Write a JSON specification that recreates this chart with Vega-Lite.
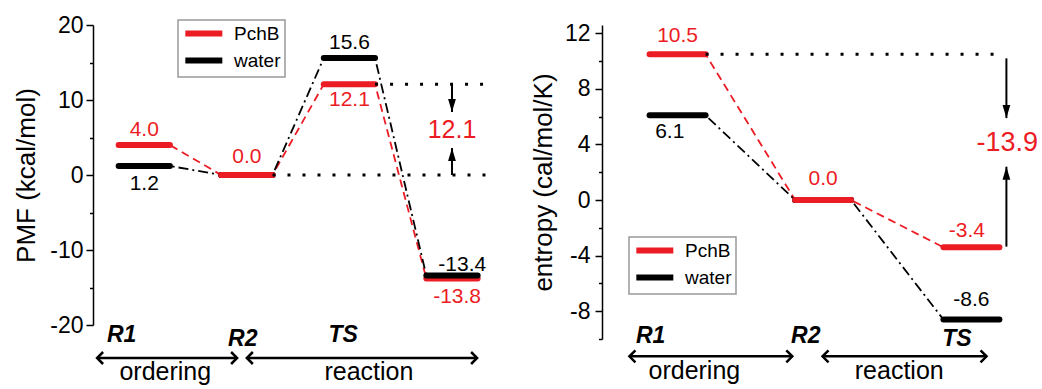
{
  "$schema": "https://vega.github.io/schema/vega-lite/v6.json",
  "background": "white",
  "padding": {"left": 13, "top": 14, "right": 0, "bottom": 0},
  "bounds": "flush",
  "spacing": 109,
  "config": {
    "view": {"stroke": null},
    "font": "Liberation Sans",
    "axis": {"grid": false, "domainColor": "#000", "domainWidth": 1.5, "tickColor": "#000", "tickWidth": 1.5, "labelColor": "#000", "labelFont": "Liberation Sans", "titleFont": "Liberation Sans", "titleFontWeight": "normal", "titleColor": "#000"},
    "legend": {"orient": "none", "title": null, "strokeColor": "#999", "strokeWidth": 1.5, "padding": 4, "symbolType": "M-1,0H5", "symbolSize": 152, "symbolStrokeWidth": 6, "labelFontSize": 19, "labelColor": "#000", "labelFont": "Liberation Sans", "symbolOffset": 0, "labelOffset": 33, "rowPadding": 2, "fillColor": "white"}
  },
  "resolve": {"scale": {"x": "independent", "y": "independent", "color": "independent", "shape": "independent"}, "legend": {"color": "independent"}},
  "datasets": {
    "pmf": [
      {"series": "PchB", "state": "R1", "x": 1, "y": 4.0},
      {"series": "PchB", "state": "R1", "x": 2, "y": 4.0},
      {"series": "PchB", "state": "R2", "x": 3, "y": 0.0},
      {"series": "PchB", "state": "R2", "x": 4, "y": 0.0},
      {"series": "PchB", "state": "TS", "x": 5, "y": 12.1},
      {"series": "PchB", "state": "TS", "x": 6, "y": 12.1},
      {"series": "PchB", "state": "P", "x": 7, "y": -13.8},
      {"series": "PchB", "state": "P", "x": 8, "y": -13.8},
      {"series": "water", "state": "R1", "x": 1, "y": 1.2},
      {"series": "water", "state": "R1", "x": 2, "y": 1.2},
      {"series": "water", "state": "R2", "x": 3, "y": 0.0},
      {"series": "water", "state": "R2", "x": 4, "y": 0.0},
      {"series": "water", "state": "TS", "x": 5, "y": 15.6},
      {"series": "water", "state": "TS", "x": 6, "y": 15.6},
      {"series": "water", "state": "P", "x": 7, "y": -13.4},
      {"series": "water", "state": "P", "x": 8, "y": -13.4}
    ],
    "pmf_ref": [{"x": 4, "x2": 8.2, "y": 0}, {"x": 6, "x2": 8.2, "y": 12.1}],
    "pmf_arrows": [{"x": 7.5, "y": 12.1, "y2": 8.4, "dir": "down"}, {"x": 7.5, "y": 0, "y2": 3.6, "dir": "up"}],
    "pmf_span": [{"x": 0.58, "x2": 3.31, "y": -24.4}, {"x": 3.5, "x2": 7.99, "y": -24.4}],
    "pmf_values": [
      {"label": "4.0", "x": 1.5, "y": 6.0, "series": "PchB"},
      {"label": "1.2", "x": 1.5, "y": -1.2, "series": "water"},
      {"label": "0.0", "x": 3.5, "y": 2.4, "series": "PchB"},
      {"label": "15.6", "x": 5.5, "y": 17.6, "series": "water"},
      {"label": "12.1", "x": 5.5, "y": 10.0, "series": "PchB"},
      {"label": "-13.4", "x": 7.7, "y": -12.0, "series": "water"},
      {"label": "-13.8", "x": 7.6, "y": -16.3, "series": "PchB"}
    ],
    "pmf_delta": [{"label": "12.1", "x": 7.5, "y": 6.0, "series": "PchB"}],
    "pmf_states": [{"label": "R1", "x": 1.06, "y": -21.3}, {"label": "R2", "x": 3.42, "y": -21.8}, {"label": "TS", "x": 5.38, "y": -21.3}],
    "pmf_words": [{"label": "ordering", "x": 1.91, "y": -26.2}, {"label": "reaction", "x": 5.88, "y": -26.2}],
    "ent": [
      {"series": "PchB", "state": "R1", "x": 1, "y": 10.5},
      {"series": "PchB", "state": "R1", "x": 2, "y": 10.5},
      {"series": "PchB", "state": "R2", "x": 3.6, "y": 0.0},
      {"series": "PchB", "state": "R2", "x": 4.6, "y": 0.0},
      {"series": "PchB", "state": "TS", "x": 6.25, "y": -3.4},
      {"series": "PchB", "state": "TS", "x": 7.25, "y": -3.4},
      {"series": "water", "state": "R1", "x": 1, "y": 6.1},
      {"series": "water", "state": "R1", "x": 2, "y": 6.1},
      {"series": "water", "state": "R2", "x": 3.6, "y": 0.0},
      {"series": "water", "state": "R2", "x": 4.6, "y": 0.0},
      {"series": "water", "state": "TS", "x": 6.25, "y": -8.6},
      {"series": "water", "state": "TS", "x": 7.25, "y": -8.6}
    ],
    "ent_ref": [{"x": 2, "x2": 7.25, "y": 10.5}],
    "ent_arrows": [{"x": 7.375, "y": 10.2, "y2": 5.9, "dir": "down"}, {"x": 7.375, "y": -3.35, "y2": 2.4, "dir": "up"}],
    "ent_span": [{"x": 0.64, "x2": 3.55, "y": -11.25}, {"x": 4.09, "x2": 7.02, "y": -11.25}],
    "ent_values": [
      {"label": "10.5", "x": 1.5, "y": 11.8, "series": "PchB"},
      {"label": "6.1", "x": 1.36, "y": 4.9, "series": "water"},
      {"label": "0.0", "x": 4.1, "y": 1.55, "series": "PchB"},
      {"label": "-3.4", "x": 6.67, "y": -2.2, "series": "PchB"},
      {"label": "-8.6", "x": 6.75, "y": -7.2, "series": "water"}
    ],
    "ent_delta": [{"label": "-13.9", "x": 7.39, "y": 4.1, "series": "PchB"}],
    "ent_states": [{"label": "R1", "x": 1.02, "y": -9.8}, {"label": "R2", "x": 3.79, "y": -9.8}, {"label": "TS", "x": 6.49, "y": -10.0}],
    "ent_words": [{"label": "ordering", "x": 1.8, "y": -12.3}, {"label": "reaction", "x": 5.46, "y": -12.3}]
  },
  "hconcat": [
    {
      "width": 400,
      "height": 300,
      "encoding": {
        "x": {"field": "x", "type": "quantitative", "scale": {"domain": [0.5, 8.3], "nice": false, "zero": false}, "axis": null},
        "y": {"field": "y", "type": "quantitative", "scale": {"domain": [-20, 20], "nice": false}, "axis": {"title": "PMF (kcal/mol)", "values": [-20, -15, -10, -5, 0, 5, 10, 15, 20], "labelExpr": "datum.value % 10 === 0 ? '' + datum.value : ''", "tickSize": {"condition": {"test": "datum.value % 10 === 0", "value": 7}, "value": 3.5}, "labelFontSize": 23, "labelPadding": 3, "titleFontSize": 26, "titlePadding": 10}}
      },
      "layer": [
        {
          "data": {"name": "pmf"},
          "transform": [{"filter": "datum.series === 'PchB'"}],
          "mark": {"type": "line", "strokeWidth": 1.8, "color": "#ec1c24", "strokeDash": [8, 5]},
          "encoding": {}
        },
        {
          "data": {"name": "pmf"},
          "transform": [{"filter": "datum.series === 'water'"}],
          "mark": {"type": "line", "strokeWidth": 1.8, "color": "#000000", "strokeDash": [10, 4, 2, 4]},
          "encoding": {}
        },
        {
          "data": {"name": "pmf"},
          "mark": {"type": "line", "strokeWidth": 6, "strokeCap": "round"},
          "encoding": {"color": {"field": "series", "type": "nominal", "scale": {"domain": ["PchB", "water"], "range": ["#ec1c24", "#000000"]}, "legend": {"legendX": 85, "legendY": -5}}, "detail": {"field": "state"}}
        },
        {
          "data": {"name": "pmf"},
          "transform": [{"filter": "datum.state === 'R2' && datum.series === 'PchB'"}],
          "mark": {"type": "line", "strokeWidth": 6, "strokeCap": "round"},
          "encoding": {"color": {"field": "series", "type": "nominal"}, "detail": {"field": "state"}}
        },
        {
          "data": {"name": "pmf_ref"},
          "mark": {"type": "rule", "strokeDash": [3, 12], "strokeWidth": 3, "color": "#000"},
          "encoding": {"x2": {"field": "x2"}}
        },
        {
          "data": {"name": "pmf_arrows"},
          "mark": {"type": "rule", "strokeWidth": 2, "color": "#000"},
          "encoding": {"y2": {"field": "y2"}}
        },
        {
          "data": {"name": "pmf_arrows"},
          "mark": {"type": "point", "filled": true, "color": "#000", "opacity": 1, "size": 169},
          "encoding": {
            "y": {"field": "y2", "type": "quantitative", "title": "PMF (kcal/mol)"},
            "shape": {"field": "dir", "type": "nominal", "scale": {"domain": ["down", "up"], "range": ["M0,0L-0.6,-2L0.6,-2Z", "M0,0L-0.6,2L0.6,2Z"]}, "legend": null}
          }
        },
        {
          "data": {"name": "pmf_span"},
          "mark": {"type": "rule", "strokeWidth": 2.5, "color": "#000"},
          "encoding": {"x2": {"field": "x2"}}
        },
        {
          "data": {"name": "pmf_span"},
          "mark": {"type": "point", "filled": false, "color": "#000", "opacity": 1, "strokeWidth": 2.5, "size": 144, "shape": "M1,-1L0,0L1,1"},
          "encoding": {}
        },
        {
          "data": {"name": "pmf_span"},
          "mark": {"type": "point", "filled": false, "color": "#000", "opacity": 1, "strokeWidth": 2.5, "size": 144, "shape": "M-1,-1L0,0L-1,1"},
          "encoding": {"x": {"field": "x2", "type": "quantitative", "axis": null}}
        },
        {
          "data": {"name": "pmf_values"},
          "mark": {"type": "text", "fontSize": 21, "baseline": "middle", "align": "center"},
          "encoding": {"text": {"field": "label"}, "color": {"field": "series", "type": "nominal"}}
        },
        {
          "data": {"name": "pmf_delta"},
          "mark": {"type": "text", "fontSize": 25, "baseline": "middle", "align": "center"},
          "encoding": {"text": {"field": "label"}, "color": {"field": "series", "type": "nominal"}}
        },
        {
          "data": {"name": "pmf_states"},
          "mark": {"type": "text", "fontSize": 23, "fontWeight": "bold", "fontStyle": "italic", "baseline": "middle", "align": "center", "color": "#000"},
          "encoding": {"text": {"field": "label"}}
        },
        {
          "data": {"name": "pmf_words"},
          "mark": {"type": "text", "fontSize": 25, "baseline": "middle", "align": "center", "color": "#000"},
          "encoding": {"text": {"field": "label"}}
        }
      ]
    },
    {
      "width": 417,
      "height": 314,
      "encoding": {
        "x": {"field": "x", "type": "quantitative", "scale": {"domain": [0.15, 7.6], "nice": false, "zero": false}, "axis": null},
        "y": {"field": "y", "type": "quantitative", "scale": {"domain": [-10, 12.6], "nice": false}, "axis": {"title": "entropy (cal/mol/K)", "values": [-10, -8, -6, -4, -2, 0, 2, 4, 6, 8, 10, 12], "labelExpr": "datum.value % 4 === 0 ? '' + datum.value : ''", "tickSize": {"condition": {"test": "datum.value % 4 === 0", "value": 7}, "value": 3.5}, "labelFontSize": 23, "labelPadding": 5, "titleFontSize": 26, "titlePadding": 8}}
      },
      "layer": [
        {
          "data": {"name": "ent"},
          "transform": [{"filter": "datum.series === 'PchB'"}],
          "mark": {"type": "line", "strokeWidth": 1.8, "color": "#ec1c24", "strokeDash": [8, 5]},
          "encoding": {}
        },
        {
          "data": {"name": "ent"},
          "transform": [{"filter": "datum.series === 'water'"}],
          "mark": {"type": "line", "strokeWidth": 1.8, "color": "#000000", "strokeDash": [10, 4, 2, 4]},
          "encoding": {}
        },
        {
          "data": {"name": "ent"},
          "mark": {"type": "line", "strokeWidth": 6, "strokeCap": "round"},
          "encoding": {"color": {"field": "series", "type": "nominal", "scale": {"domain": ["PchB", "water"], "range": ["#ec1c24", "#000000"]}, "legend": {"legendX": 27, "legendY": 212}}, "detail": {"field": "state"}}
        },
        {
          "data": {"name": "ent"},
          "transform": [{"filter": "datum.state === 'R2' && datum.series === 'PchB'"}],
          "mark": {"type": "line", "strokeWidth": 6, "strokeCap": "round"},
          "encoding": {"color": {"field": "series", "type": "nominal"}, "detail": {"field": "state"}}
        },
        {
          "data": {"name": "ent_ref"},
          "mark": {"type": "rule", "strokeDash": [3, 12], "strokeWidth": 3, "color": "#000"},
          "encoding": {"x2": {"field": "x2"}}
        },
        {
          "data": {"name": "ent_arrows"},
          "mark": {"type": "rule", "strokeWidth": 2, "color": "#000"},
          "encoding": {"y2": {"field": "y2"}}
        },
        {
          "data": {"name": "ent_arrows"},
          "mark": {"type": "point", "filled": true, "color": "#000", "opacity": 1, "size": 169},
          "encoding": {
            "y": {"field": "y2", "type": "quantitative", "title": "entropy (cal/mol/K)"},
            "shape": {"field": "dir", "type": "nominal", "scale": {"domain": ["down", "up"], "range": ["M0,0L-0.6,-2L0.6,-2Z", "M0,0L-0.6,2L0.6,2Z"]}, "legend": null}
          }
        },
        {
          "data": {"name": "ent_span"},
          "mark": {"type": "rule", "strokeWidth": 2.5, "color": "#000"},
          "encoding": {"x2": {"field": "x2"}}
        },
        {
          "data": {"name": "ent_span"},
          "mark": {"type": "point", "filled": false, "color": "#000", "opacity": 1, "strokeWidth": 2.5, "size": 144, "shape": "M1,-1L0,0L1,1"},
          "encoding": {}
        },
        {
          "data": {"name": "ent_span"},
          "mark": {"type": "point", "filled": false, "color": "#000", "opacity": 1, "strokeWidth": 2.5, "size": 144, "shape": "M-1,-1L0,0L-1,1"},
          "encoding": {"x": {"field": "x2", "type": "quantitative", "axis": null}}
        },
        {
          "data": {"name": "ent_values"},
          "mark": {"type": "text", "fontSize": 21, "baseline": "middle", "align": "center"},
          "encoding": {"text": {"field": "label"}, "color": {"field": "series", "type": "nominal"}}
        },
        {
          "data": {"name": "ent_delta"},
          "mark": {"type": "text", "fontSize": 27, "baseline": "middle", "align": "center"},
          "encoding": {"text": {"field": "label"}, "color": {"field": "series", "type": "nominal"}}
        },
        {
          "data": {"name": "ent_states"},
          "mark": {"type": "text", "fontSize": 23, "fontWeight": "bold", "fontStyle": "italic", "baseline": "middle", "align": "center", "color": "#000"},
          "encoding": {"text": {"field": "label"}}
        },
        {
          "data": {"name": "ent_words"},
          "mark": {"type": "text", "fontSize": 25, "baseline": "middle", "align": "center", "color": "#000"},
          "encoding": {"text": {"field": "label"}}
        }
      ]
    }
  ]
}
